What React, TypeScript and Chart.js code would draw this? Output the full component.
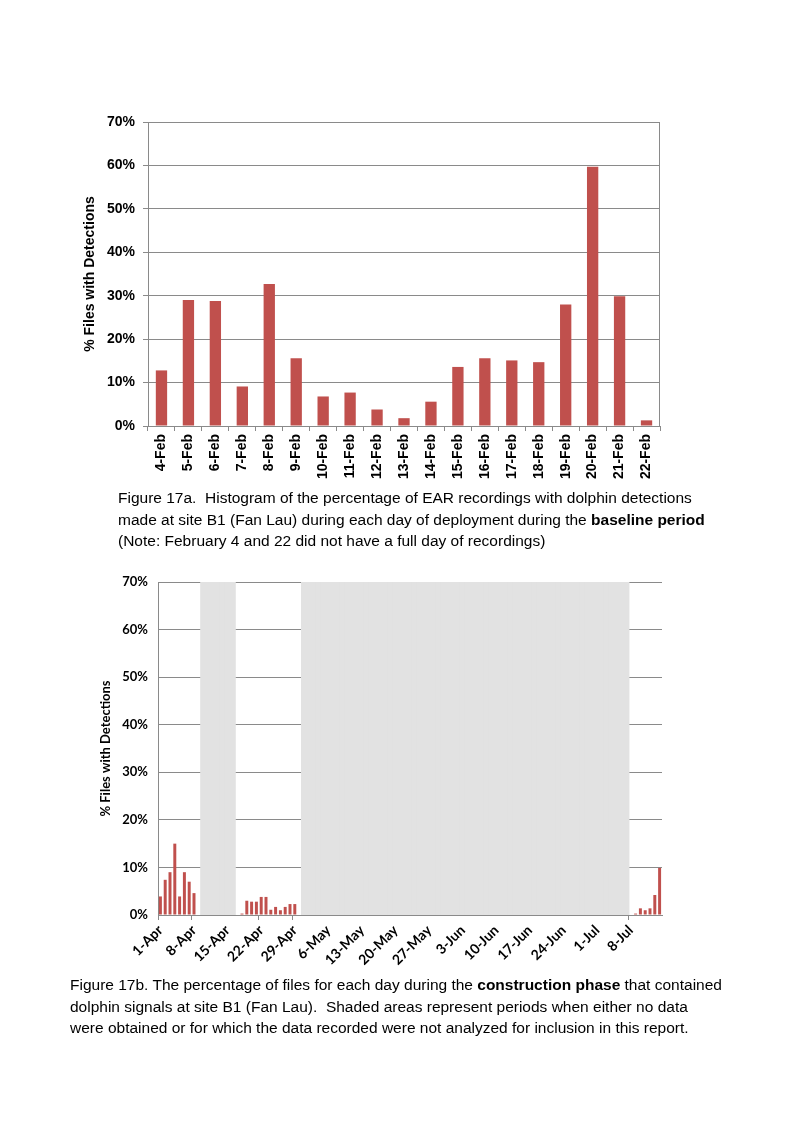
import React, { useEffect, useRef } from 'react';
import { Chart, registerables } from 'chart.js';

Chart.register(...registerables);

// ---------- Figure 17a data (baseline period) ----------
const febDays = ['4-Feb', '5-Feb', '6-Feb', '7-Feb', '8-Feb', '9-Feb', '10-Feb', '11-Feb', '12-Feb', '13-Feb', '14-Feb', '15-Feb', '16-Feb', '17-Feb', '18-Feb', '19-Feb', '20-Feb', '21-Feb', '22-Feb'];
const febPct = [12.8, 29.0, 28.8, 9.1, 32.7, 15.6, 6.8, 7.7, 3.8, 1.8, 5.6, 13.6, 15.6, 15.1, 14.7, 28.0, 59.7, 29.9, 1.3];

// ---------- Figure 17b data (construction phase) ----------
const monthNames = ['Apr', 'May', 'Jun', 'Jul'];
const monthDaysShown = [30, 31, 30, 14];
const earlyAprilStart = '1-Apr';
const earlyAprilPct = [3.9, 7.4, 9.0, 15.0, 3.9, 9.0, 7.0, 4.6];
const lateAprilStart = '18-Apr';
const lateAprilPct = [0.3, 3.0, 2.8, 2.8, 3.8, 3.8, 1.1, 1.7, 1.0, 1.7, 2.3, 2.3];
const julyStart = '9-Jul';
const julyPct = [0.3, 1.4, 1.0, 1.4, 4.2, 9.9];
const shadedFrom = ['10-Apr', '1-May'];
const shadedTo = ['16-Apr', '7-Jul'];
const shadedLevel = 70;
const weekTickLabels = ['1-Apr', '8-Apr', '15-Apr', '22-Apr', '29-Apr', '6-May', '13-May', '20-May', '27-May', '3-Jun', '10-Jun', '17-Jun', '24-Jun', '1-Jul', '8-Jul'];

const yMax = 70;
const yStep = 10;

const BAR_RED = '#C0504D';
const GRID = '#8a8a8a';
const SHADE = '#e2e2e2';

// categories for 17b: consecutive days
const constructionDays: string[] = [];
monthNames.forEach((m, mi) => {
  for (let d = 1; d <= monthDaysShown[mi]; d++) constructionDays.push(`${d}-${m}`);
});

const detections: (number | null)[] = constructionDays.map(() => null);
const placeGroup = (start: string, vals: number[]) => {
  const s = constructionDays.indexOf(start);
  vals.forEach((v, i) => { detections[s + i] = v; });
};
placeGroup(earlyAprilStart, earlyAprilPct);
placeGroup(lateAprilStart, lateAprilPct);
placeGroup(julyStart, julyPct);

const shaded: (number | null)[] = constructionDays.map(() => null);
shadedFrom.forEach((from, k) => {
  const a = constructionDays.indexOf(from);
  const b = constructionDays.indexOf(shadedTo[k]);
  for (let i = a; i <= b; i++) shaded[i] = shadedLevel;
});

const framePlugin = {
  id: 'frame',
  beforeDatasetsDraw(chart: any) {
    const { ctx, chartArea } = chart;
    ctx.save();
    ctx.strokeStyle = GRID;
    ctx.lineWidth = 1;
    ctx.beginPath();
    ctx.moveTo(chartArea.left, chartArea.top + 0.5);
    ctx.lineTo(chartArea.right - 0.5, chartArea.top + 0.5);
    ctx.lineTo(chartArea.right - 0.5, chartArea.bottom);
    ctx.stroke();
    ctx.restore();
  },
};

const ARIAL = '"Liberation Sans", Arial, sans-serif';
const CALIBRI = 'Lato, "Open Sans", sans-serif';

function BaselineChart() {
  const ref = useRef<HTMLCanvasElement>(null);
  useEffect(() => {
    if (!ref.current) return;
    const font = { family: ARIAL, size: 14, weight: 'bold' as const };
    const chart = new Chart(ref.current, {
      type: 'bar',
      data: {
        labels: febDays,
        datasets: [{ data: febPct, backgroundColor: BAR_RED, barPercentage: 0.42, categoryPercentage: 1 }],
      },
      options: {
        animation: false,
        responsive: false,
        maintainAspectRatio: false,
        layout: { padding: { left: 82, right: 133, top: 22, bottom: 0 } },
        plugins: { legend: { display: false }, tooltip: { enabled: false } },
        scales: {
          x: {
            grid: { drawOnChartArea: false, tickLength: 5, color: GRID },
            border: { color: GRID },
            ticks: { minRotation: 90, maxRotation: 90, autoSkip: false, font, color: '#000', padding: 3 },
            afterFit: (s: any) => { s.height = 64; },
          },
          y: {
            min: 0,
            max: yMax,
            ticks: { stepSize: yStep, callback: (v: any) => `${v}%`, font, color: '#000', padding: 8 },
            grid: { color: GRID, tickLength: 5 },
            border: { color: GRID },
            title: { display: true, text: '% Files with Detections', font, color: '#000', padding: 0 },
            afterFit: (s: any) => { s.width = 148 - 82; },
          },
        },
      },
      plugins: [framePlugin],
    });
    return () => chart.destroy();
  }, []);
  return <canvas ref={ref} width={793} height={390} style={{ position: 'absolute', left: 0, top: 100, display: 'block' }} />;
}

const tickVisible = (i: number) => {
  if (!weekTickLabels.includes(constructionDays[i])) return false;
  const leftShaded = i > 0 && shaded[i - 1] !== null;
  const rightShaded = shaded[i] !== null;
  return !(leftShaded && rightShaded);
};

function ConstructionChart() {
  const ref = useRef<HTMLCanvasElement>(null);
  useEffect(() => {
    if (!ref.current) return;
    const font = { family: CALIBRI, size: 13, weight: 'bold' as const };
    const xFont = { family: CALIBRI, size: 14, weight: 'bold' as const };
    const chart = new Chart(ref.current, {
      type: 'bar',
      data: {
        labels: constructionDays,
        datasets: [
          { data: detections, backgroundColor: BAR_RED, barPercentage: 0.62, categoryPercentage: 1, grouped: false, order: 0 },
          { data: shaded, backgroundColor: SHADE, barPercentage: 1, categoryPercentage: 1, grouped: false, inflateAmount: 1, order: 1 },
        ] as any,
      },
      options: {
        animation: false,
        responsive: false,
        maintainAspectRatio: false,
        layout: { padding: { left: 98, right: 131, top: 22, bottom: 0 } },
        plugins: { legend: { display: false }, tooltip: { enabled: false } },
        scales: {
          x: {
            grid: {
              drawOnChartArea: false,
              tickLength: 5,
              color: GRID,
              tickColor: (c: any) => (tickVisible(c.index) ? GRID : 'rgba(0,0,0,0)'),
            },
            border: { color: GRID },
            ticks: {
              minRotation: 45,
              maxRotation: 45,
              autoSkip: false,
              font: xFont,
              color: '#000',
              padding: 2,
              callback: (_v: any, i: number) => (weekTickLabels.includes(constructionDays[i]) ? constructionDays[i] : ''),
            },
            afterFit: (s: any) => { s.height = 65; },
          },
          y: {
            min: 0,
            max: yMax,
            ticks: { stepSize: yStep, callback: (v: any) => `${v}%`, font, color: '#000', padding: 10 },
            grid: { color: GRID, drawTicks: false },
            border: { color: GRID },
            title: { display: true, text: '% Files with Detections', font, color: '#000', padding: 0 },
            afterFit: (s: any) => { s.width = 158 - 98; },
          },
        },
      },
    });
    return () => chart.destroy();
  }, []);
  return <canvas ref={ref} width={793} height={420} style={{ position: 'absolute', left: 0, top: 560, display: 'block' }} />;
}

const captionStyle: React.CSSProperties = {
  position: 'absolute',
  fontFamily: ARIAL,
  fontSize: 15.5,
  lineHeight: '21.5px',
  color: '#000',
  margin: 0,
  whiteSpace: 'nowrap',
};

export default function App() {
  return (
    <div style={{ position: 'absolute', left: 0, top: 0, width: 793, height: 1100, background: '#fff', overflow: 'hidden' }}>
      <BaselineChart />
      <div style={{ ...captionStyle, left: 118, top: 487 }}>
        Figure 17a.&nbsp; Histogram of the percentage of EAR recordings with dolphin detections<br />
        made at site B1 (Fan Lau) during each day of deployment during the <b>baseline period</b><br />
        (Note: February 4 and 22 did not have a full day of recordings)
      </div>
      <ConstructionChart />
      <div style={{ ...captionStyle, left: 70, top: 974 }}>
        Figure 17b. The percentage of files for each day during the <b>construction phase</b> that contained<br />
        dolphin signals at site B1 (Fan Lau).&nbsp; Shaded areas represent periods when either no data<br />
        were obtained or for which the data recorded were not analyzed for inclusion in this report.
      </div>
    </div>
  );
}
